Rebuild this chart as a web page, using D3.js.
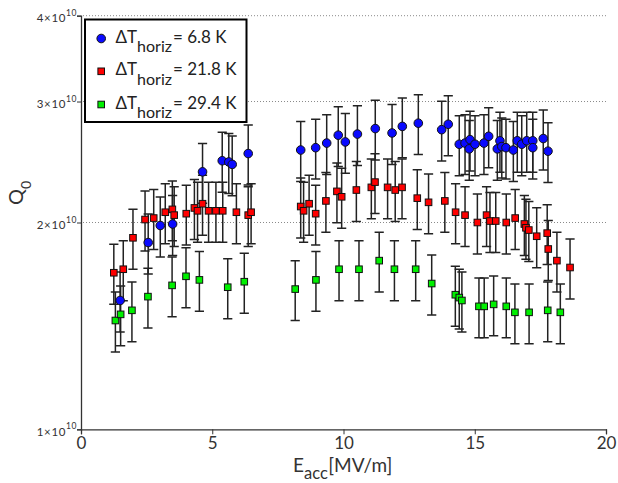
<!DOCTYPE html>
<html>
<head>
<meta charset="utf-8">
<script src="https://cdn.jsdelivr.net/npm/d3@7"></script>
<style>
  html, body { margin: 0; padding: 0; background: #fff; }
  svg { display: block; font-family: "Lato", "DejaVu Sans", sans-serif; }
</style>
</head>
<body>
<svg id="chart" width="618" height="483"></svg>
<script>
// Q0 (units of 1e10) versus accelerating field for three horizontal temperature gradients
const blueX = [1.49, 2.56, 3.02, 3.49, 4.63, 5.38, 5.63, 5.76, 6.37, 8.37, 8.94, 9.36, 9.80, 10.07, 10.53, 11.21, 11.85, 12.24, 12.85, 13.74, 13.99, 14.41, 14.63, 14.82, 14.79, 15.01, 15.35, 15.53, 15.86, 15.96, 16.03, 16.19, 16.47, 16.62, 16.79, 16.98, 17.21, 17.21, 17.61, 17.79];
const blueQ = [1.54, 1.87, 1.98, 1.99, 2.37, 2.46, 2.45, 2.43, 2.52, 2.55, 2.57, 2.61, 2.68, 2.62, 2.69, 2.74, 2.70, 2.76, 2.79, 2.73, 2.78, 2.60, 2.61, 2.64, 2.56, 2.60, 2.61, 2.67, 2.56, 2.63, 2.58, 2.57, 2.55, 2.63, 2.60, 2.63, 2.63, 2.57, 2.65, 2.54];

const redX = [1.25, 1.61, 1.98, 2.44, 2.77, 3.21, 3.48, 3.55, 4.01, 4.32, 4.44, 4.63, 4.86, 5.14, 5.40, 5.92, 6.37, 6.48, 8.37, 8.48, 8.69, 8.94, 9.33, 9.75, 9.93, 10.49, 11.06, 11.20, 11.68, 11.97, 12.23, 12.81, 13.24, 13.86, 14.27, 14.63, 15.10, 15.45, 15.58, 15.80, 16.20, 16.54, 16.89, 16.95, 17.06, 17.36, 17.76, 17.80, 18.13, 18.63];
const redQ = [1.69, 1.71, 1.90, 2.02, 2.03, 2.07, 2.09, 2.05, 2.06, 2.10, 2.08, 2.13, 2.08, 2.08, 2.08, 2.07, 2.05, 2.07, 2.11, 2.08, 2.13, 2.06, 2.15, 2.22, 2.18, 2.23, 2.25, 2.29, 2.25, 2.23, 2.25, 2.17, 2.14, 2.15, 2.07, 2.05, 2.00, 2.05, 2.01, 2.01, 2.00, 2.03, 1.99, 1.965, 1.95, 1.91, 1.93, 1.83, 1.76, 1.72];

const greenX = [1.31, 1.51, 1.94, 2.55, 3.47, 4.00, 4.51, 5.59, 6.22, 8.16, 8.95, 9.83, 10.59, 11.36, 11.94, 12.75, 13.36, 14.26, 14.41, 14.51, 15.16, 15.36, 15.72, 16.20, 16.53, 17.07, 17.78, 18.26];
const greenQ = [1.44, 1.47, 1.49, 1.56, 1.62, 1.67, 1.65, 1.61, 1.64, 1.60, 1.65, 1.71, 1.71, 1.76, 1.71, 1.71, 1.63, 1.57, 1.555, 1.54, 1.51, 1.51, 1.52, 1.51, 1.48, 1.48, 1.49, 1.48];

// relative measurement uncertainty of Q0
const relErr = 0.10;

const seriesNames = ["6.8 K", "21.8 K", "29.4 K"];
const seriesColors = ["#0a0aff", "#ff0000", "#00f000"];
const seriesShapes = ["circle", "square", "square"];

const xTicks = [0, 5, 10, 15, 20];
const yTicks = [1, 2, 3, 4];

const svg = d3.select("#chart");
const plotL = 81, plotR = 606, plotT = 15.7, plotB = 429.3;

const x = d3.scaleLinear().domain([0, 20]).range([plotL, plotR]);
const y = d3.scaleLog().domain([1, 4]).range([plotB, plotT]);

// dotted horizontal grid
svg.append("g").selectAll("line").data(yTicks.slice(1)).join("line")
  .attr("x1", plotL + 2).attr("x2", plotR)
  .attr("y1", d => y(d)).attr("y2", d => y(d))
  .attr("stroke", "#8a8a8a").attr("stroke-width", 1)
  .attr("stroke-dasharray", "1,2");

// axes
const xAxis = d3.axisBottom(x).tickValues(xTicks).tickSize(5).tickFormat(d3.format("d"));
const gx = svg.append("g").attr("transform", `translate(0,${plotB})`).call(xAxis);
gx.select(".domain").attr("stroke", "#333").attr("stroke-width", 1.3);
gx.selectAll(".tick line").attr("stroke", "#333");
gx.selectAll(".tick text").attr("font-size", 17).attr("fill", "#333").attr("dy", "0.7em")
  .style("font-family", "Lato, sans-serif");

const yAxis = d3.axisLeft(y).tickValues(yTicks).tickSize(4).tickFormat("");
const gy = svg.append("g").attr("transform", `translate(${plotL},0)`).call(yAxis);
gy.select(".domain").attr("stroke", "#333").attr("stroke-width", 1.3);
gy.selectAll(".tick line").attr("stroke", "#333");

// y tick labels as n×10^10
const yl = svg.append("g").selectAll("text").data(yTicks).join("text")
  .attr("x", 77).attr("y", d => y(d) + 6.5)
  .attr("text-anchor", "end").attr("fill", "#333").attr("font-size", 11.5)
  .attr("letter-spacing", 0.6);
yl.append("tspan").text(d => d + "\u00d710");
yl.append("tspan").attr("dy", -6.5).attr("font-size", 8.5).text("10");

// axis titles
const xt = svg.append("text").attr("x", 293).attr("y", 472).attr("fill", "#333").attr("font-size", 19);
xt.append("tspan").text("E");
xt.append("tspan").attr("dy", 7).attr("font-size", 16.5).text("acc");
xt.append("tspan").attr("dy", -7).attr("dx", 0.5).text("[MV/m]");

const yt = svg.append("text").attr("transform", "translate(23,205) rotate(-90)")
  .attr("fill", "#333").attr("font-size", 20);
yt.append("tspan").text("Q");
yt.append("tspan").attr("dy", 8).attr("font-size", 14).text("0");

// data series
const series = [
  { xs: blueX, qs: blueQ },
  { xs: redX, qs: redQ },
  { xs: greenX, qs: greenQ }
].map((s, i) => ({
  name: seriesNames[i], color: seriesColors[i], shape: seriesShapes[i],
  points: s.xs.map((v, j) => ({ e: v, q: s.qs[j] }))
}));

const cap = 4.6;
const drawOrder = [2, 1, 0];

// error bars
drawOrder.forEach(i => {
  const g = svg.append("g").attr("stroke", "#222").attr("stroke-width", 1.5).attr("fill", "none");
  const pts = series[i].points;
  g.selectAll("path").data(pts).join("path")
    .attr("d", d => {
      const cx = x(d.e), y1 = y(d.q * (1 + relErr)), y2 = y(d.q * (1 - relErr));
      return `M${cx},${y1}V${y2}M${cx - cap},${y1}H${cx + cap}M${cx - cap},${y2}H${cx + cap}`;
    });
});

// markers
function drawMarker(sel, shape, color) {
  if (shape === "circle") {
    sel.append("circle").attr("r", 4.3).attr("fill", color)
      .attr("stroke", "#111").attr("stroke-width", 1);
  } else {
    sel.append("rect").attr("x", -3.3).attr("y", -3.3).attr("width", 6.6).attr("height", 6.6)
      .attr("fill", color).attr("stroke", "#111").attr("stroke-width", 1);
  }
}
drawOrder.forEach(i => {
  const s = series[i];
  svg.append("g").selectAll("g").data(s.points).join("g")
    .attr("transform", d => `translate(${x(d.e)},${y(d.q)})`)
    .each(function () { drawMarker(d3.select(this), s.shape, s.color); });
});

// legend
const lg = svg.append("g");
lg.append("rect").attr("x", 85).attr("y", 19.5).attr("width", 161.5).attr("height", 102.5)
  .attr("fill", "#fff").attr("stroke", "#000").attr("stroke-width", 2);
const rowY = [38.5, 71.3, 104.5];
series.forEach((s, i) => {
  const row = lg.append("g").attr("transform", `translate(101.2,${rowY[i]})`);
  drawMarker(row, s.shape, s.color);
  const t = lg.append("text").attr("x", 115.5).attr("y", rowY[i] + 4)
    .attr("fill", "#222").attr("font-size", 17);
  t.append("tspan").text("\u0394T");
  t.append("tspan").attr("dy", 9.5).attr("font-size", 16).text("horiz");
  t.append("tspan").attr("dy", -9.5).attr("dx", 1).text("= " + s.name);
});
</script>
</body>
</html>
